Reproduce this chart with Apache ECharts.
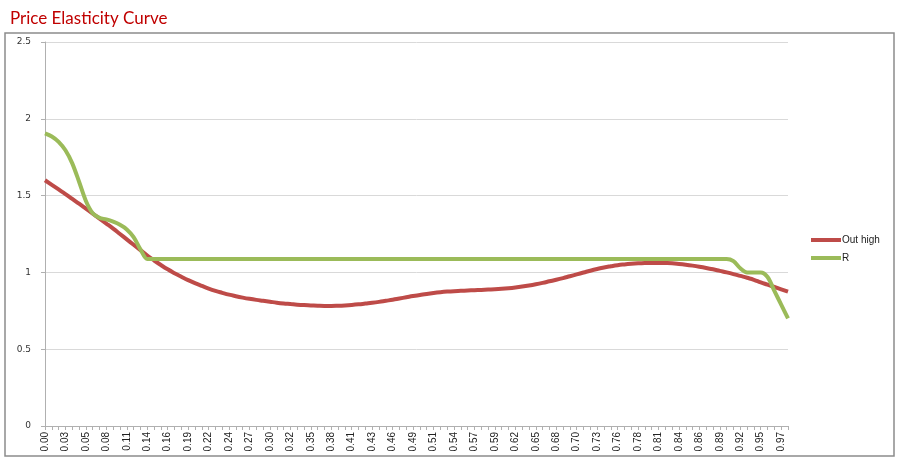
<!DOCTYPE html>
<html>
<head>
<meta charset="utf-8">
<script src="https://cdn.jsdelivr.net/npm/echarts@6/dist/echarts.min.js"></script>
<style>
html,body{margin:0;padding:0;background:#fff;}
#chart{width:897px;height:459px;}
</style>
</head>
<body>
<div id="chart"></div>
<script>
var categories = [
"0.00","0.01","0.02","0.03","0.04","0.05","0.05","0.06","0.07","0.08",
"0.09","0.10","0.11","0.12","0.13","0.14","0.14","0.15","0.16","0.17",
"0.18","0.19","0.20","0.21","0.22","0.23","0.23","0.24","0.25","0.26",
"0.27","0.28","0.29","0.30","0.31","0.32","0.32","0.33","0.34","0.35",
"0.36","0.37","0.38","0.39","0.40","0.41","0.41","0.42","0.43","0.44",
"0.45","0.46","0.47","0.48","0.49","0.50","0.50","0.51","0.52","0.53",
"0.54","0.55","0.56","0.57","0.58","0.59","0.59","0.60","0.61","0.62",
"0.63","0.64","0.65","0.66","0.67","0.68","0.68","0.69","0.70","0.71",
"0.72","0.73","0.74","0.75","0.76","0.77","0.77","0.78","0.79","0.80",
"0.81","0.82","0.83","0.84","0.85","0.86","0.86","0.87","0.88","0.89",
"0.90","0.91","0.92","0.93","0.94","0.95","0.95","0.96","0.97","0.98"
];
var outHigh = [
1.600,1.570,1.540,1.510,1.478,1.447,1.415,1.383,1.350,1.318,
1.285,1.250,1.215,1.180,1.145,1.110,1.078,1.048,1.020,0.995,
0.972,0.950,0.930,0.912,0.895,0.880,0.867,0.855,0.845,0.836,
0.828,0.821,0.815,0.809,0.803,0.798,0.794,0.790,0.787,0.785,
0.783,0.782,0.782,0.783,0.785,0.788,0.792,0.797,0.802,0.808,
0.815,0.822,0.830,0.838,0.846,0.853,0.860,0.866,0.871,0.875,
0.878,0.880,0.882,0.884,0.886,0.888,0.890,0.893,0.897,0.902,
0.908,0.915,0.923,0.932,0.942,0.952,0.963,0.975,0.987,0.999,
1.011,1.022,1.032,1.040,1.047,1.052,1.056,1.059,1.061,1.062,
1.062,1.061,1.059,1.055,1.050,1.044,1.037,1.029,1.020,1.010,
1.000,0.989,0.977,0.965,0.952,0.935,0.920,0.905,0.890,0.875
];
var rSeries = [
1.905,1.885,1.850,1.795,1.710,1.590,1.465,1.385,1.355,1.345,
1.330,1.310,1.280,1.230,1.150,1.087,1.087,1.087,1.087,1.087,
1.087,1.087,1.087,1.087,1.087,1.087,1.087,1.087,1.087,1.087,
1.087,1.087,1.087,1.087,1.087,1.087,1.087,1.087,1.087,1.087,
1.087,1.087,1.087,1.087,1.087,1.087,1.087,1.087,1.087,1.087,
1.087,1.087,1.087,1.087,1.087,1.087,1.087,1.087,1.087,1.087,
1.087,1.087,1.087,1.087,1.087,1.087,1.087,1.087,1.087,1.087,
1.087,1.087,1.087,1.087,1.087,1.087,1.087,1.087,1.087,1.087,
1.087,1.087,1.087,1.087,1.087,1.087,1.087,1.087,1.087,1.087,
1.087,1.087,1.087,1.087,1.087,1.087,1.087,1.087,1.087,1.087,
1.087,1.073,1.027,1.000,1.000,1.000,0.970,0.880,0.790,0.700
];
var seriesNames = ["Out high", "R"];
var yTicks = [0, 0.5, 1, 1.5, 2, 2.5];

var chart = echarts.init(document.getElementById('chart'), null, {renderer: 'canvas'});
chart.setOption({
  animation: false,
  backgroundColor: '#ffffff',
  title: {
    text: 'Price Elasticity Curve',
    left: 5, top: 5,
    textStyle: {color: '#C00000', fontSize: 17, fontWeight: 'normal', fontFamily: 'Lato'}
  },
  graphic: [{
    type: 'rect',
    shape: {x: 5, y: 33, width: 889, height: 423},
    style: {fill: 'none', stroke: '#8c8c8c', lineWidth: 1.5},
    silent: true, z: -1
  }],
  legend: {
    orient: 'vertical',
    left: 806, top: 230,
    itemWidth: 30, itemHeight: 4, itemGap: 8,
    icon: 'rect',
    textStyle: {fontSize: 10, color: '#222', fontFamily: 'Liberation Sans', padding: [0,0,0,-4]},
    data: seriesNames
  },
  grid: {left: 45, right: 109, top: 42, bottom: 33, containLabel: false},
  xAxis: {
    type: 'category',
    data: categories,
    boundaryGap: false,
    axisLine: {lineStyle: {color: '#b0b0b0', width: 1}},
    axisTick: {show: true, interval: 0, length: 4, lineStyle: {color: '#b0b0b0'}},
    axisLabel: {interval: 2, rotate: 90, fontSize: 10, color: '#222', fontFamily: 'Liberation Sans', margin: 6},
    splitLine: {show: false}
  },
  yAxis: {
    type: 'value',
    min: yTicks[0], max: yTicks[yTicks.length - 1], interval: 0.5,
    axisLine: {show: true, lineStyle: {color: '#b0b0b0', width: 1}},
    axisTick: {show: true, length: 4, lineStyle: {color: '#b0b0b0'}},
    axisLabel: {fontSize: 9, color: '#333', fontFamily: 'DejaVu Sans', margin: 14},
    splitLine: {lineStyle: {color: '#d9d9d9', width: 1}}
  },
  series: [
    {name: seriesNames[0], type: 'line', data: outHigh, smooth: true, showSymbol: false,
     lineStyle: {color: '#BE4B48', width: 4}, itemStyle: {color: '#BE4B48'}},
    {name: seriesNames[1], type: 'line', data: rSeries, smooth: 0.3, showSymbol: false,
     lineStyle: {color: '#9BBB59', width: 4}, itemStyle: {color: '#9BBB59'}}
  ]
});
</script>
</body>
</html>
